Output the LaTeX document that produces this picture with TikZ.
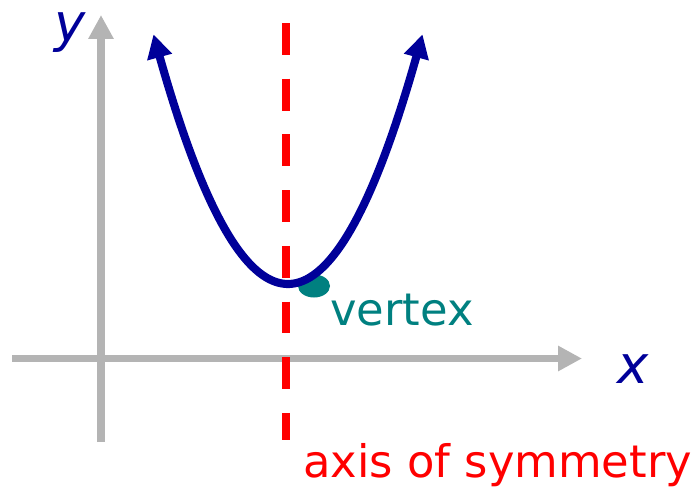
\documentclass[tikz,border=0pt]{standalone}
\usepackage{fontspec}
\setsansfont{DejaVu Sans}
\usetikzlibrary{arrows.meta}
\definecolor{CAX}{RGB}{180,180,180}
\definecolor{CPB}{RGB}{0,0,153}
\definecolor{CSY}{RGB}{255,0,0}
\definecolor{CVX}{RGB}{0,128,128}

\begin{document}
\begin{tikzpicture}[font=\sffamily,
  axisline/.style={CAX,line width=4.5pt,-{Triangle[length=13.6pt,width=13.6pt]}},
  parabline/.style={CPB,line width=4.6pt,{Triangle[length=13.4pt,width=13.8pt]}-{Triangle[length=13.4pt,width=13.8pt]}},
  symline/.style={CSY,line width=4.5pt,dash pattern=on 18.1pt off 13.6pt},
  lbl/.style={inner sep=0pt,font=\sffamily\fontsize{25.5}{30}\selectfont}]
  \useasboundingbox (0.0000cm,0.0000cm) rectangle (13.8600cm,9.8600cm);
  % axes
  \coordinate (ybot) at (2.0200cm,1.0200cm);
  \coordinate (ytop) at (2.0200cm,9.5600cm);
  \coordinate (xlft) at (0.2400cm,2.6900cm);
  \coordinate (xrgt) at (11.6400cm,2.6900cm);
  \draw[axisline] (ybot) -- (ytop);
  \draw[axisline] (xlft) -- (xrgt);
  % vertex mark and parabola
  \fill[CVX] (6.2800cm,4.1400cm) ellipse [x radius=0.3200cm,y radius=0.2300cm];
  \draw[parabline] plot[domain=-2.69:2.69,samples=80] ({5.76+\x},{4.18+0.69*\x*\x});
  % axis of symmetry
  \coordinate (stop) at (5.7200cm,9.4000cm);
  \coordinate (sbot) at (5.7200cm,1.0600cm);
  \draw[symline] (stop) -- (sbot);
  % labels
  \node[lbl,text=CVX,anchor=base west] (vtx) at (6.6000cm,3.3600cm) {vertex};
  \node[lbl,text=CSY,anchor=base west] (sym) at (6.0600cm,0.3200cm) {axis of symmetry};
  \node[inner sep=0pt,text=CPB,font=\sffamily\itshape\fontsize{30}{36}\selectfont] (ylbl) at (1.4000cm,9.2000cm) {y};
  \node[inner sep=0pt,text=CPB,font=\sffamily\itshape\fontsize{30}{36}\selectfont] (xlbl) at (12.6600cm,2.4800cm) {x};
\end{tikzpicture}
\end{document}
